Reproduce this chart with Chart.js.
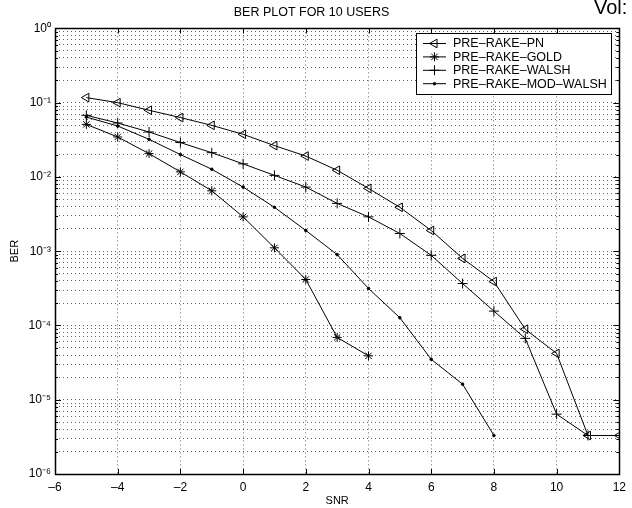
<!DOCTYPE html>
<html><head><meta charset="utf-8">
<script src="https://cdn.jsdelivr.net/npm/chart.js@4.4.0/dist/chart.umd.min.js"></script>
<style>
html,body{margin:0;padding:0;background:#fff;overflow:hidden;}
#wrap{position:relative;width:632px;height:508px;}
#vol{position:absolute;left:594px;top:-4px;font:20px "Liberation Sans",Arial,sans-serif;color:#000;white-space:nowrap;}
</style></head><body>
<div id="wrap"><canvas id="c" width="632" height="508"></canvas><div id="vol">Vol:</div></div>
<script>
// ---- data ----
const seriesNames = ['PRE\u2013RAKE\u2013PN', 'PRE\u2013RAKE\u2013GOLD', 'PRE\u2013RAKE\u2013WALSH', 'PRE\u2013RAKE\u2013MOD\u2013WALSH'];
const snrPN = [-5,-4,-3,-2,-1,0,1,2,3,4,5,6,7,8,9,10,11,12];
const berPN = [0.117,0.100,0.079,0.063,0.0495,0.0375,0.0264,0.0191,0.0123,0.0070,0.0039,0.0019,8.0e-4,3.9e-4,8.9e-5,4.2e-5,3.3e-6,3.3e-6];
const snrGold = [-5,-4,-3,-2,-1,0,1,2,3,4];
const berGold = [0.051,0.0345,0.0206,0.0117,0.0065,0.0029,0.00111,4.16e-4,6.9e-5,3.9e-5];
const snrWalsh = [-5,-4,-3,-2,-1,0,1,2,3,4,5,6,7,8,9,10,11];
const berWalsh = [0.0676,0.0532,0.0403,0.029,0.0212,0.0150,0.0105,0.0073,0.0044,0.0029,0.00173,8.8e-4,3.67e-4,1.56e-4,6.7e-5,6.4e-6,3.3e-6];
const snrModWalsh = [-5,-4,-3,-2,-1,0,1,2,3,4,5,6,7,8];
const berModWalsh = [0.064,0.0485,0.0321,0.020,0.0127,0.0073,0.0039,0.0019,9.0e-4,3.15e-4,1.27e-4,3.5e-5,1.62e-5,3.3e-6];
const xTicks = [-6,-4,-2,0,2,4,6,8,10,12];
const yDecades = [-6,-5,-4,-3,-2,-1,0];
const titleText = 'BER PLOT FOR 10 USERS';
const xTitle = 'SNR';
const yTitle = 'BER';

// ---- helpers ----
const FONT = '"Liberation Sans", Arial, Helvetica, sans-serif';
const SUP = {'-':'\u207B','0':'\u2070','1':'\u00B9','2':'\u00B2','3':'\u00B3','4':'\u2074','5':'\u2075','6':'\u2076','7':'\u2077','8':'\u2078','9':'\u2079'};
const toSup = n => String(n).split('').map(c => SUP[c]).join('');
const pts = (xs, ys) => xs.map((x, i) => ({x, y: ys[i]}));
const yTickValues = [];
yDecades.forEach(e => {
  if (e === yDecades[yDecades.length - 1]) { yTickValues.push(Math.pow(10, e)); return; }
  for (let k = 1; k <= 9; k++) yTickValues.push(Number((k * Math.pow(10, e)).toPrecision(3)));
});
const isDecade = v => { const e = Math.log10(v); return Math.abs(e - Math.round(e)) < 1e-6; };

const styles = [
  {pointStyle:'triangle', rotation:-90, radius:5},
  {pointStyle:'star', rotation:0, radius:4.5},
  {pointStyle:'cross', rotation:0, radius:5},
  {pointStyle:'circle', rotation:0, radius:1.3}
];
const dataSets = [pts(snrPN, berPN), pts(snrGold, berGold), pts(snrWalsh, berWalsh), pts(snrModWalsh, berModWalsh)];

const datasets = dataSets.map((d, i) => ({
  label: seriesNames[i],
  data: d,
  borderColor: '#000',
  borderWidth: 1,
  backgroundColor: i === 3 ? '#000' : 'rgba(0,0,0,0)',
  pointStyle: styles[i].pointStyle,
  pointRotation: styles[i].rotation,
  pointRadius: styles[i].radius,
  pointHoverRadius: styles[i].radius,
  pointBorderColor: '#000',
  pointBackgroundColor: i === 3 ? '#000' : 'rgba(0,0,0,0)',
  pointBorderWidth: 1,
  tension: 0,
  fill: false
}));

const framePlugin = {
  id: 'frame',
  afterDatasetsDraw(chart) {
    const {ctx, chartArea: a, scales} = chart;
    ctx.save();
    ctx.strokeStyle = '#000';
    ctx.lineWidth = 1;
    ctx.beginPath();
    // inward ticks
    scales.x.ticks.forEach(t => {
      const px = Math.round(scales.x.getPixelForValue(t.value)) + 0.5;
      ctx.moveTo(px, a.bottom); ctx.lineTo(px, a.bottom - 5);
      ctx.moveTo(px, a.top); ctx.lineTo(px, a.top + 5);
    });
    scales.y.ticks.forEach(t => {
      const py = Math.round(scales.y.getPixelForValue(t.value)) + 0.5;
      const L = isDecade(t.value) ? 6 : 3;
      ctx.moveTo(a.left, py); ctx.lineTo(a.left + L, py);
      ctx.moveTo(a.right, py); ctx.lineTo(a.right - L, py);
    });
    ctx.stroke();
    ctx.lineWidth = 1.5;
    ctx.strokeRect(Math.round(a.left) + 0.5, Math.round(a.top) + 0.5, Math.round(a.right - a.left), Math.round(a.bottom - a.top));
    // legend box
    const bx = 416.5, by = 33.5, bw = 195, bh = 61;
    ctx.fillStyle = '#fff';
    ctx.fillRect(bx, by, bw, bh);
    ctx.lineWidth = 1;
    ctx.strokeRect(bx, by, bw, bh);
    ctx.font = '12.5px ' + FONT;
    ctx.textBaseline = 'middle';
    ctx.textAlign = 'left';
    chart.data.datasets.forEach((ds, i) => {
      const cy = by + 10 + i * 13.4;
      ctx.strokeStyle = '#000';
      ctx.lineWidth = 1;
      ctx.beginPath();
      ctx.moveTo(423, cy); ctx.lineTo(446, cy);
      ctx.stroke();
      ctx.fillStyle = i === 3 ? '#000' : 'rgba(0,0,0,0)';
      Chart.helpers.drawPoint(ctx, {pointStyle: styles[i].pointStyle, rotation: styles[i].rotation, radius: styles[i].radius, borderWidth: 1}, 434.5, cy);
      ctx.fillStyle = '#000';
      ctx.fillText(ds.label, 453, cy + 0.5);
    });
    ctx.restore();
  }
};

new Chart(document.getElementById('c'), {
  type: 'line',
  data: { datasets },
  options: {
    responsive: false,
    animation: false,
    devicePixelRatio: 1,
    layout: { padding: { top: 0, right: 9, bottom: 0, left: 0 } },
    plugins: {
      legend: { display: false },
      tooltip: { enabled: false },
      title: { display: true, text: titleText, color: '#000', font: { family: FONT, size: 12.5, weight: 'normal' }, padding: { top: 5, bottom: 8.4 } }
    },
    scales: {
      x: {
        type: 'linear', min: -6, max: 12,
        afterBuildTicks: s => { s.ticks = xTicks.map(v => ({value: v})); },
        afterFit: s => { s.height = 34; },
        ticks: { color: '#000', font: { family: FONT, size: 12 }, padding: 6, autoSkip: false, maxRotation: 0,
          callback: v => (v < 0 ? '\u2013' + Math.abs(v) : String(v)) },
        grid: { color: 'rgba(0,0,0,0.6)', lineWidth: 1, drawTicks: false },
        border: { display: false, dash: [1,3] },
        title: { display: true, text: xTitle, color: '#000', font: { family: FONT, size: 11 }, padding: { top: 0, bottom: 0 } }
      },
      y: {
        type: 'logarithmic', min: 1e-6, max: 1,
        afterBuildTicks: s => { s.ticks = yTickValues.map(v => ({value: v, major: isDecade(v)})); },
        afterFit: s => { s.width = 55; },
        ticks: { color: '#000', font: { family: FONT, size: 12 }, padding: 4, autoSkip: false,
          callback: v => isDecade(v) ? '10' + toSup(Math.round(Math.log10(v))) : '' },
        grid: { color: 'rgba(0,0,0,0.6)', lineWidth: 1, drawTicks: false },
        border: { display: false, dash: [1,3] },
        title: { display: true, text: yTitle, color: '#000', font: { family: FONT, size: 11 }, padding: { top: 8, bottom: 0 } }
      }
    }
  },
  plugins: [framePlugin]
});
</script>
</body></html>
